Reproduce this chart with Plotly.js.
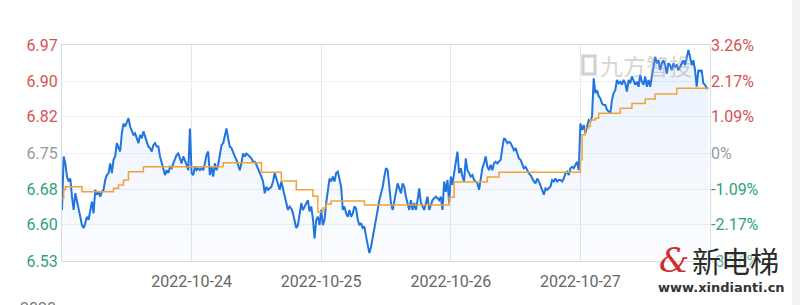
<!DOCTYPE html>
<html><head><meta charset="utf-8">
<script src="https://cdn.plot.ly/plotly-3.0.1.min.js"></script>
<style>html,body{margin:0;padding:0;background:#fff;}#chart{width:800px;height:305px;}</style>
</head><body><div id="chart"></div>
<script>
// ---- data ----
const basePrice = 6.75;
const dayLabels = ['2022-10-24','2022-10-25','2022-10-26','2022-10-27'];
const dayStartIdx = [78, 156, 234, 312];
const totalSlots = 390;
const pctTicks = [-3.26, -2.17, -1.09, 0, 1.09, 2.17, 3.26];
const pctTickText = ['-3.26%','-2.17%','-1.09%','0%','1.09%','2.17%','3.26%'];
const priceTickText = ['6.53','6.60','6.68','6.75','6.82','6.90','6.97'];

const priceDay1 = [
 6.634,6.743,6.729,6.702,6.692,6.698,6.661,6.634,6.668,6.654,
 6.637,6.620,6.603,6.597,6.607,6.620,6.614,6.634,6.651,6.627,
 6.675,6.665,6.671,6.661,6.671,6.675,6.695,6.705,6.709,6.729,
 6.709,6.736,6.743,6.770,6.763,6.753,6.790,6.810,6.804,6.814,
 6.821,6.804,6.797,6.787,6.790,6.780,6.770,6.787,6.780,6.794,
 6.783,6.777,6.763,6.760,6.753,6.766,6.770,6.763,6.763,6.743,
 6.729,6.719,6.705,6.715,6.709,6.722,6.719,6.729,6.736,6.746,
 6.749,6.739,6.729,6.743,6.736,6.726,6.715,6.800,6.709,6.705,
 6.722,6.715,6.719,6.715,6.719,6.715,6.729,6.746,6.753,6.705,
 6.722,6.702,6.729,6.715,6.726,6.749,6.766];
const priceDay2 = [
 6.770,6.787,6.800,6.780,6.763,6.760,6.749,6.743,6.736,6.726,
 6.715,6.729,6.749,6.743,6.749,6.746,6.743,6.739,6.732,6.732,
 6.726,6.719,6.712,6.702,6.692,6.668,6.681,6.675,6.678,6.681,
 6.692,6.709,6.698,6.685,6.675,6.692,6.678,6.665,6.651,6.634,
 6.641,6.637,6.627,6.614,6.597,6.603,6.627,6.648,6.634,6.641,
 6.648,6.654,6.631,6.641,6.617,6.576,6.614,6.620,6.603,6.634,
 6.603,6.614,6.648,6.675,6.698,6.692,6.702,6.692,6.709,6.712,
 6.692,6.681,6.634,6.641,6.627,6.620,6.634,6.620,6.627,6.641,
 6.637,6.614,6.603,6.607,6.597,6.600,6.580,6.566,6.546,6.559,
 6.580,6.593,6.620,6.634,6.654,6.668,6.681,6.702];
const priceDay3 = [
 6.719,6.715,6.681,6.648,6.634,6.654,6.675,6.688,6.678,6.668,
 6.688,6.681,6.661,6.648,6.634,6.654,6.634,6.648,6.634,6.654,
 6.678,6.648,6.641,6.634,6.648,6.661,6.634,6.644,6.654,6.658,
 6.661,6.658,6.654,6.661,6.634,6.692,6.671,6.695,6.648,6.702,
 6.685,6.709,6.736,6.753,6.709,6.719,6.702,6.692,6.739,6.715,
 6.709,6.702,6.705,6.695,6.692,6.688,6.675,6.702,6.719,6.729,
 6.743,6.722,6.715,6.726,6.715,6.729,6.732,6.729,6.732,6.736,
 6.760,6.780,6.777,6.770,6.773,6.770,6.763,6.756,6.760,6.749,
 6.739,6.736,6.726,6.719,6.722,6.715,6.709,6.705,6.698,6.692,
 6.688,6.698,6.692,6.685,6.675,6.665,6.678,6.675,6.678];
const priceDay4 = [
 6.682,6.695,6.692,6.698,6.692,6.695,6.695,6.692,6.698,6.709,
 6.712,6.705,6.719,6.722,6.719,6.726,6.732,6.715,6.810,6.797,
 6.807,6.790,6.804,6.817,6.814,6.824,6.902,6.872,6.878,6.866,
 6.861,6.851,6.848,6.848,6.838,6.834,6.831,6.858,6.872,6.878,
 6.899,6.892,6.895,6.889,6.899,6.892,6.875,6.899,6.892,6.906,
 6.899,6.889,6.895,6.885,6.909,6.895,6.889,6.906,6.885,6.899,
 6.885,6.902,6.926,6.946,6.933,6.939,6.919,6.933,6.939,6.929,
 6.912,6.933,6.929,6.919,6.933,6.926,6.929,6.919,6.926,6.933,
 6.939,6.929,6.946,6.960,6.946,6.929,6.939,6.919,6.885,6.919,
 6.916,6.919,6.892,6.889,6.882,6.882];

const avgStepIdx = [0,1,2,12,31,34,37,40,49,97,120,132,141,151,154,157,159,162,182,233,236,256,263,312,313,315,317,318,321,323,336,343,351,357,370,389];
const avgStepVal = [6.658,6.675,6.681,6.671,6.678,6.685,6.695,6.712,6.722,6.730,6.711,6.693,6.675,6.662,6.630,6.638,6.646,6.652,6.644,6.660,6.691,6.701,6.711,6.736,6.787,6.801,6.805,6.817,6.821,6.831,6.841,6.851,6.860,6.870,6.882,6.882];

// ---- build ----
const price = priceDay1.concat(priceDay2, priceDay3, priceDay4);
const idx = price.map((_, i) => i);
const lo = basePrice * (1 + pctTicks[0] / 100);
const hi = basePrice * (1 + pctTicks[pctTicks.length - 1] / 100);
const priceTickVals = pctTicks.map(p => basePrice * (1 + p / 100));

const RED = '#d65252', GREEN = '#2f9f80', GRAY = '#9a9a9a';
const colorFor = p => p > 0 ? RED : (p < 0 ? GREEN : GRAY);
const leftText = priceTickText.map((t, i) => '<span style="color:' + colorFor(pctTicks[i]) + '">' + t + '</span>');
const rightText = pctTickText.map((t, i) => '<span style="color:' + colorFor(pctTicks[i]) + '">' + t + '</span>');

const traces = [
  {x: idx, y: price, type: 'scatter', mode: 'lines', name: 'price',
   line: {color: '#1f74e0', width: 2},
   fill: 'tozeroy',
   fillgradient: {type: 'vertical', start: lo, stop: hi,
     colorscale: [[0, 'rgba(40,120,230,0.02)'], [1, 'rgba(40,120,230,0.10)']]},
   hoverinfo: 'skip'},
  {x: avgStepIdx, y: avgStepVal, type: 'scatter', mode: 'lines', name: 'avg',
   line: {color: '#eea33a', width: 1.5, shape: 'hv'}, hoverinfo: 'skip'},
  {x: [0], y: [0], yaxis: 'y2', type: 'scatter', mode: 'markers',
   marker: {opacity: 0}, showlegend: false, hoverinfo: 'skip'}
];

const px = v => (v - 62) / 648;
const py = v => (261 - v) / 216;

const layout = {
  width: 800, height: 305,
  margin: {l: 62, r: 90, t: 45, b: 44},
  paper_bgcolor: '#ffffff', plot_bgcolor: '#ffffff',
  showlegend: false,
  font: {family: 'Roboto, "Noto Sans", sans-serif', size: 16, color: '#666'},
  xaxis: {range: [0, totalSlots], tickvals: dayStartIdx, ticktext: dayLabels,
    showgrid: true, gridcolor: '#e4e7eb', gridwidth: 1, zeroline: false,
    showline: true, mirror: true, linecolor: '#d5dbe2', linewidth: 1,
    ticks: '', ticklabelstandoff: 6, tickfont: {size: 16, color: '#666'}, fixedrange: true},
  yaxis: {range: [lo, hi], tickvals: priceTickVals, ticktext: leftText,
    showgrid: true, gridcolor: '#edf0f4', zeroline: false,
    showline: true, mirror: true, linecolor: '#d5dbe2',
    ticks: '', tickfont: {size: 16}, fixedrange: true},
  yaxis2: {range: [pctTicks[0], pctTicks[pctTicks.length - 1]], overlaying: 'y', side: 'right',
    tickvals: pctTicks, ticktext: rightText, showgrid: false, zeroline: false,
    ticks: '', tickfont: {size: 16}, fixedrange: true},
  shapes: [
    {type: 'rect', xref: 'paper', yref: 'paper', x0: px(792), x1: px(800), y0: py(305), y1: py(0),
     fillcolor: '#f3f3f3', line: {width: 0}, layer: 'below'},
    {type: 'rect', xref: 'paper', yref: 'paper', x0: px(583), x1: px(595), y0: py(74), y1: py(56),
     fillcolor: 'rgba(0,0,0,0)', line: {color: 'rgba(170,170,170,0.55)', width: 3}}
  ],
  annotations: [
    {xref: 'paper', yref: 'paper', x: px(598), y: py(65), xanchor: 'left', yanchor: 'middle',
     text: '九方智投', showarrow: false,
     font: {family: '"Noto Sans CJK SC", sans-serif', size: 23, color: 'rgba(160,160,160,0.45)'}},
    {xref: 'paper', yref: 'paper', x: px(38), y: py(297), xanchor: 'center', yanchor: 'top',
     text: '2020', showarrow: false, font: {size: 16, color: '#777'}},
    {xref: 'paper', yref: 'paper', x: px(674), y: py(260), xanchor: 'center', yanchor: 'middle',
     text: '<i>&amp;</i>', showarrow: false,
     font: {family: '"DejaVu Serif", serif', size: 34, color: '#d42a2a', shadow: '0 0 2px #fff'}},
    {xref: 'paper', yref: 'paper', x: px(735), y: py(260), xanchor: 'center', yanchor: 'middle',
     text: '新电梯', showarrow: false,
     font: {family: '"Noto Sans CJK SC", sans-serif', size: 29, color: '#2a2a2a',
       shadow: '0 0 2px #fff, 0 0 3px #fff, 0 0 4px #fff'}},
    {xref: 'paper', yref: 'paper', x: px(721), y: py(287), xanchor: 'center', yanchor: 'middle',
     text: '<b>www.xindianti.cn</b>', showarrow: false,
     font: {family: '"DejaVu Sans", sans-serif', size: 13, color: '#333',
       shadow: '0 0 2px #fff, 0 0 3px #fff'}}
  ]
};

Plotly.newPlot('chart', traces, layout, {displayModeBar: false, staticPlot: true});
</script>
</body></html>
